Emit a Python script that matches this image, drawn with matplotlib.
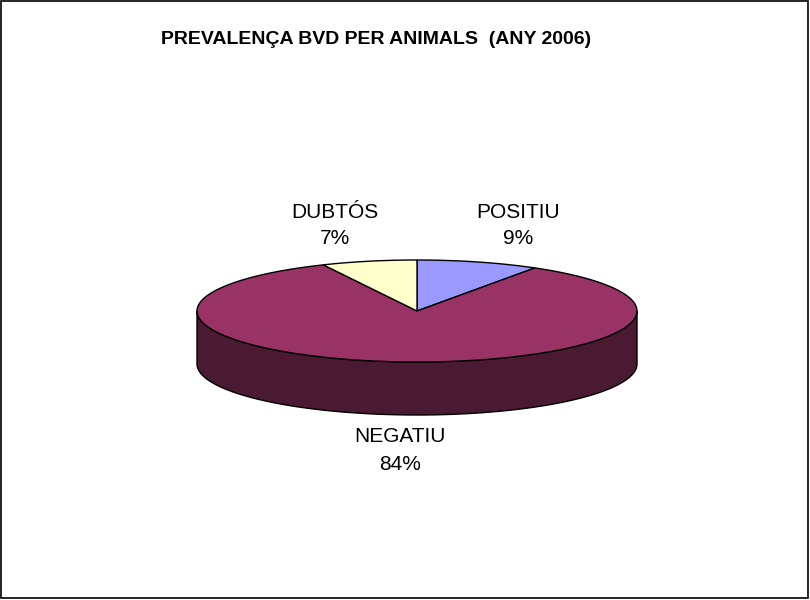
import numpy as np
import matplotlib.pyplot as plt
from matplotlib.patches import Polygon, Rectangle

# data
labels = ['POSITIU', 'NEGATIU', 'DUBTÓS']
values = [9, 84, 7]
colors = ['#9999FF', '#993366', '#FFFFCC']
side_colors = ['#5C5C99', '#4A1A33', '#99997A']
title = 'PREVALENÇA BVD PER ANIMALS  (ANY 2006)'

# geometry of the tilted pie (pixel coords)
cx, cy = 417, 311
a, b = 220, 51
depth = 53
label_pos = [(518, 212), (400, 437), (335, 212)]


def ell(theta):
    # theta in degrees, clockwise from top
    t = np.radians(theta)
    return cx + a * np.sin(t), cy - b * np.cos(t)


fig = plt.figure(figsize=(8.1, 6.0), dpi=100)
ax = fig.add_axes([0, 0, 1, 1])
ax.set_xlim(0, 810)
ax.set_ylim(600, 0)
ax.axis('off')

ax.add_patch(Rectangle((1, 1), 807, 597, fill=False, edgecolor='black', lw=1.2))

fracs = np.array(values) / sum(values)
starts = np.concatenate([[0], np.cumsum(fracs)[:-1]]) * 360
ends = np.cumsum(fracs) * 360

# side band (front half only)
for s, e, sc in zip(starts, ends, side_colors):
    lo, hi = max(s, 90), min(e, 270)
    if hi <= lo:
        continue
    th = np.linspace(lo, hi, 100)
    x, y = ell(th)
    pts = np.column_stack([np.concatenate([x, x[::-1]]),
                           np.concatenate([y, y[::-1] + depth])])
    ax.add_patch(Polygon(pts, closed=True, facecolor=sc, edgecolor='black', lw=1))

# top faces
for s, e, c in zip(starts, ends, colors):
    th = np.linspace(s, e, 200)
    x, y = ell(th)
    pts = np.column_stack([np.concatenate([[cx], x]), np.concatenate([[cy], y])])
    ax.add_patch(Polygon(pts, closed=True, facecolor=c, edgecolor='black', lw=1))

for lab, v, (lx, ly) in zip(labels, values, label_pos):
    pct = round(100 * v / sum(values))
    ax.text(lx, ly, lab, ha='center', va='center', fontsize=15,
            family='Liberation Sans')
    ax.text(lx, ly + 27, f'{pct}%', ha='center', va='center', fontsize=15,
            family='Liberation Sans')

ax.text(376, 39, title, ha='center', va='center', fontsize=14,
        fontweight='bold', family='Liberation Sans')

fig.savefig('out.png', dpi=100)
